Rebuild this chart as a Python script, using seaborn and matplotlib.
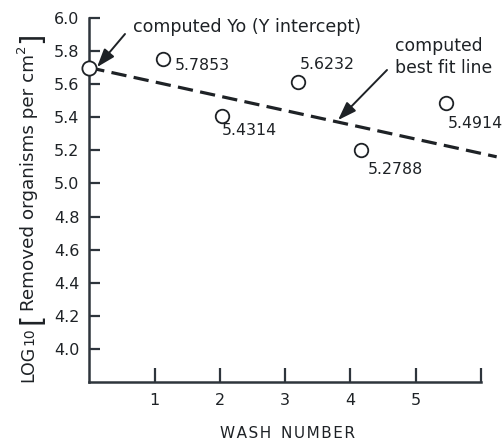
import matplotlib
matplotlib.use("Agg")
import matplotlib.pyplot as plt
import seaborn as sns
import pandas as pd

# ---- data ----
wash_number = [1.13, 2.03, 3.2, 4.16, 5.46]
log_removed = [5.75, 5.41, 5.615, 5.20, 5.485]
value_labels = ["5.7853", "5.4314", "5.6232", "5.2788", "5.4914"]
intercept_x = [0.0]
intercept_y = [5.70]
fit_x = [0.0, 6.24]
fit_y = [5.70, 5.161]
x_ticks = [1, 2, 3, 4, 5, 6]
x_tick_labels = ["1", "2", "3", "4", "5", ""]
y_ticks = [4.0, 4.2, 4.4, 4.6, 4.8, 5.0, 5.2, 5.4, 5.6, 5.8, 6.0]

sns.set_style("white")
plt.rcParams["font.family"] = ["DejaVu Sans"]

ink = "#1e2226"
axis_col = "#2e353c"
W, H = 504, 441

fig = plt.figure(figsize=(W / 100, H / 100), dpi=100)
ax = fig.add_axes([89.3 / W, 1 - 382 / H, (481 - 89.3) / W, (382 - 18) / H])

df = pd.DataFrame({"wash": wash_number, "log": log_removed, "label": value_labels})

# best fit line
sns.lineplot(x=fit_x, y=fit_y, ax=ax, color=ink, linewidth=2.3,
             clip_on=False, zorder=2)
ax.lines[-1].set_dashes([4.8, 2.3])

# data points
sns.scatterplot(data=df, x="wash", y="log", ax=ax, s=95, marker="o",
                facecolor="white", edgecolor=ink, linewidth=1.3,
                clip_on=False, zorder=3)
# intercept point
sns.scatterplot(x=intercept_x, y=intercept_y, ax=ax, s=105, marker="o",
                facecolor="white", edgecolor=ink, linewidth=1.3,
                clip_on=False, zorder=4)

# value labels: offsets in points relative to each point
offsets = [(8.6, -4.3), (0, -10.8), (1.4, 12.2), (5, -13.7), (1.6, -14.4)]
for xv, yv, lab, (dx, dy) in zip(wash_number, log_removed, value_labels, offsets):
    ax.annotate(lab, (xv, yv), xytext=(dx, dy), textcoords="offset points",
                ha="left", va="center", fontsize=11.3, color=ink)

arrow_kw = dict(arrowstyle="-|>,head_length=0.8,head_width=0.28", color=ink,
                lw=1.4, mutation_scale=14, shrinkA=0, shrinkB=0)

# annotations
fig.text(133 / W, 1 - 27 / H, "computed Yo (Y intercept)", fontsize=12.6,
         color=ink, ha="left", va="center")
ax.annotate("", xy=(0.118, 5.703), xycoords="data",
            xytext=(125, H - 34), textcoords="figure pixels",
            arrowprops=arrow_kw)

fig.text(395 / W, 1 - 57 / H, "computed\nbest fit line", fontsize=12.4,
         color=ink, ha="left", va="center", linespacing=1.25)
ax.annotate("", xy=(3.81, 5.383), xycoords="data",
            xytext=(387, H - 70), textcoords="figure pixels",
            arrowprops=arrow_kw)

ax.set_xlim(0, 6)
ax.set_ylim(3.8, 6.0)
ax.set_xticks(x_ticks)
ax.set_xticklabels(x_tick_labels)
ax.set_yticks(y_ticks)
ax.set_yticklabels([f"{v:.1f}" for v in y_ticks])
ax.set_xlabel("")
ax.set_ylabel("")

sns.despine(ax=ax)
for side in ["left", "bottom"]:
    ax.spines[side].set_color(axis_col)
    ax.spines[side].set_linewidth(1.8)

ax.tick_params(axis="y", direction="in", length=8, width=1.6, color=axis_col,
               labelsize=11.5, labelcolor=ink, pad=7, left=True)
ax.tick_params(axis="x", direction="in", length=10, width=1.6, color=axis_col,
               labelsize=11.5, labelcolor=ink, pad=8, bottom=True)

# x axis title
fig.text(288 / W, 1 - 433 / H, "W\u200aA\u200aS\u200aH  N\u200aU\u200aM\u200aB\u200aE\u200aR",
         fontsize=11, color=ink, ha="center", va="center")

# y axis title built from pieces, reading bottom to top
fig.canvas.draw()
renderer = fig.canvas.get_renderer()
pieces = [
    ("LOG", 12.5, 0, 1),
    ("10", 10, 0, 3),
    ("[", 21, 6, 2),
    ("Removed organisms per cm", 13.2, 1, 1),
    ("2", 9.5, -9, 1),
    ("]", 21, 6, 0),
]
base_x = 33.5
y_pos = H - 382
for s, fs, shift, gap in pieces:
    t = fig.text((base_x + shift) / W, y_pos / H, s, fontsize=fs, color=ink,
                 rotation=90, rotation_mode="anchor", ha="left", va="baseline")
    bb = t.get_window_extent(renderer)
    y_pos = bb.y1 + gap

fig.savefig("out.png", dpi=100)
